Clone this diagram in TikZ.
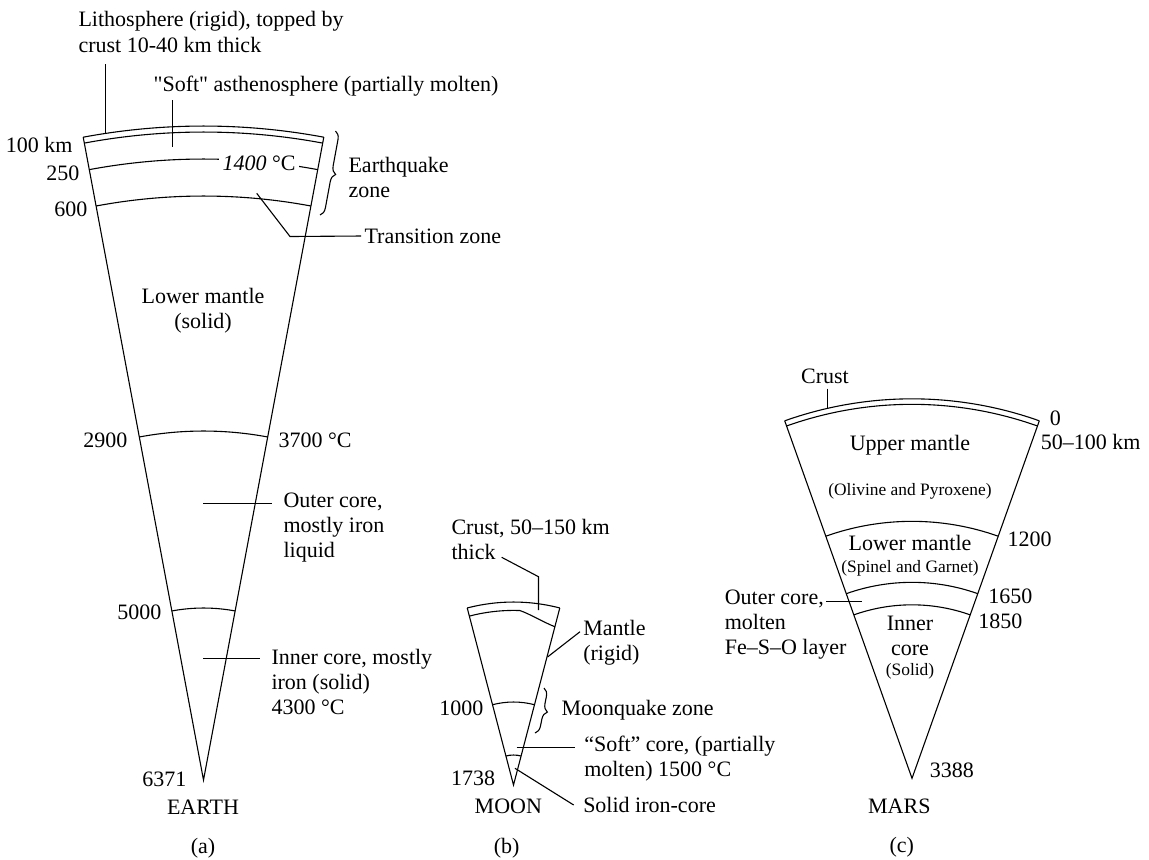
\documentclass[tikz,border=0pt]{standalone}
\usepackage{fontspec}
\setmainfont{Liberation Serif}[Ligatures=TeXOff]
\usetikzlibrary{decorations.pathreplacing}

\tikzset{
  lbl/.style={inner sep=0.5pt,font=\fontsize{11}{12.5}\selectfont},
  smalllbl/.style={inner sep=0.5pt,font=\fontsize{8.7}{10}\selectfont},
  zone/.style={decorate,decoration={brace,amplitude=4pt}},
}

\begin{document}
\begin{tikzpicture}[x=0.5pt,y=-0.5pt,line width=0.55pt]
                \useasboundingbox (0,0) rectangle (1149,859);

                % earth wedge
                \begin{scope}[shift={(203.5,780)}]
                    \coordinate (eapex) at (0,0);
                    \draw (-100.6:654) -- (eapex) -- (-79.4:654);
                    \foreach \r in {654,648,621,584,349,172}
                        \draw (-100.6:\r) arc[start angle=-100.6,end angle=-79.4,radius=\r];
                    \coordinate (eqtop) at (132,-649);
                    \coordinate (eqbot) at (116.5,-565);
                \end{scope}

                \node[lbl,align=left,anchor=west,font=\fontsize{11}{13.3}\selectfont] (litho) at (77,32) {Lithosphere (rigid), topped by\\crust 10-40 km thick};
                \node[lbl,anchor=west] (asth) at (152,86) {"Soft" asthenosphere (partially molten)};
                \node[lbl,anchor=east] (d100) at (74,145) {100 km};
                \node[lbl,anchor=east] (d250) at (81,173) {250};
                \node[lbl,anchor=east] (d600) at (89,209) {600};
                \node[lbl,fill=white,inner sep=2pt] (t1400) at (259,163) {\textit{1400} °C};
                \node[lbl,align=left,anchor=west] (quake) at (347,177.5) {Earthquake\\zone};
                \node[lbl,anchor=west] (trans) at (363,236) {Transition zone};
                \node[lbl,align=center] (lower) at (203,310.5) {Lower mantle\\(solid)};
                \node[lbl,anchor=east] (d2900) at (129,440) {2900};
                \node[lbl,anchor=west] (t3700) at (277,440) {3700 °C};
                \node[lbl,align=left,anchor=west] (outer) at (282,527.5) {Outer core,\\mostly iron\\liquid};
                \node[lbl,anchor=east] (d5000) at (163,612) {5000};
                \node[lbl,align=left,anchor=west] (inner) at (270,681.5) {Inner core, mostly\\iron (solid)\\4300 °C};
                \node[lbl,anchor=east] (d6371) at (188,779) {6371};
                \node[lbl] (earth) at (203,807) {EARTH};
                \node[lbl] (capa) at (203,848) {(a)};

                \coordinate (lithopt) at (105.5,133.4);
                \coordinate (asthpt) at (172.5,146.5);
                \coordinate (transpt) at (256.7,193.3);
                \coordinate (transbend) at (290,236.5);
                \coordinate (outerpt) at (203,503.5);
                \coordinate (innerpt) at (203,658.5);
                \draw (lithopt |- 0,64) -- (lithopt);
                \draw (asthpt |- 0,100) -- (asthpt);
                \draw (transpt) -- (transbend) -- ([xshift=-1pt]trans.west);
                \draw (outerpt) -- (272,503.5);
                \draw (innerpt) -- (260,658.5);
                \draw[zone] (eqtop) -- (eqbot);

                % moon wedge
                \begin{scope}[shift={(513.5,785)}]
                    \coordinate (mapex) at (0,0);
                    \draw (-104.65:183) -- (mapex) -- (-75.35:183);
                    \draw (-104.65:183) arc[start angle=-104.65,end angle=-75.35,radius=183];
                    \draw (-104.65:174.6) arc[start angle=-104.65,end angle=-87.9,radius=174.6]
                        .. controls (16.5,-171) and (29.5,-163) .. (-75.35:163.6);
                    \foreach \r in {83,30}
                        \draw (-104.65:\r) arc[start angle=-104.65,end angle=-75.35,radius=\r];
                    \coordinate (mqtop) at (30.5,-97);
                    \coordinate (mqbot) at (21.5,-52);
                \end{scope}

                \node[lbl,align=left,anchor=west] (mcrust) at (450,539.5) {Crust, 50–150 km\\thick};
                \node[lbl,align=left,anchor=west] (mantle) at (581.7,643) {Mantle\\(rigid)};
                \node[lbl,anchor=east] (d1000) at (485,708) {1000};
                \node[lbl,anchor=west] (mquake) at (560,710) {Moonquake zone};
                \node[lbl,align=left,anchor=west] (soft) at (582.7,758.5) {“Soft” core, (partially\\molten) 1500 °C};
                \node[lbl,anchor=east] (d1738) at (496.7,778.3) {1738};
                \node[lbl,anchor=west] (iron) at (581.7,805) {Solid iron-core};
                \node[lbl] (moon) at (508.3,806) {MOON};
                \node[lbl] (capb) at (506.7,848) {(b)};

                \coordinate (mcrustpt) at (538.5,610);
                \coordinate (mantlept) at (547.5,657);
                \coordinate (softpt) at (516.7,747.5);
                \coordinate (ironpt) at (515,768.3);
                \draw (501.7,557.3) -- (538.5,576.7) -- (mcrustpt);
                \draw (580,631.7) -- (mantlept);
                \draw (softpt) -- (575,747.5);
                \draw (ironpt) -- ([xshift=-4pt]iron.west);
                \draw[zone] (mqtop) -- (mqbot);

                % mars wedge
                \begin{scope}[shift={(912,778.3)}]
                    \coordinate (rapex) at (0,0);
                    \draw (-109.6:379.5) -- (rapex) -- (-70.4:379.5);
                    \foreach \r in {379.5,374,257,196,173.5}
                        \draw (-109.6:\r) arc[start angle=-109.6,end angle=-70.4,radius=\r];
                \end{scope}

                \node[lbl] (rcrust) at (825,376.7) {Crust};
                \node[lbl,anchor=west] (r0) at (1048.3,418.3) {0};
                \node[lbl,anchor=west] (r50) at (1039.3,441.7) {50–100 km};
                \node[lbl] (upper) at (910,445) {Upper mantle};
                \node[smalllbl] (olivine) at (910,491.7) {(Olivine and Pyroxene)};
                \node[lbl,anchor=west] (r1200) at (1006,539.3) {1200};
                \node[lbl] (rlower) at (910,543.3) {Lower mantle};
                \node[smalllbl] (spinel) at (910,568.3) {(Spinel and Garnet)};
                \node[lbl,anchor=west] (r1650) at (986.7,596.7) {1650};
                \node[lbl,anchor=west] (r1850) at (976.7,621.7) {1850};
                \node[lbl,align=left,anchor=west] (router) at (723.3,625) {Outer core,\\molten\\Fe–S–O layer};
                \node[lbl,align=center] (rinner) at (910,636) {Inner\\core};
                \node[smalllbl] (rsolid) at (910,671.7) {(Solid)};
                \node[lbl,anchor=west] (r3388) at (928.3,770.7) {3388};
                \node[lbl] (mars) at (899.3,806.7) {MARS};
                \node[lbl] (capc) at (901.7,846.7) {(c)};

                \coordinate (rcrustpt) at (827.5,408.5);
                \coordinate (routerpt) at (861.7,601.5);
                \draw (rcrustpt |- rcrust.south) ++(0,3) -- (rcrustpt);
                \draw (826,601.5) -- (routerpt);
            \end{tikzpicture}
\end{document}
